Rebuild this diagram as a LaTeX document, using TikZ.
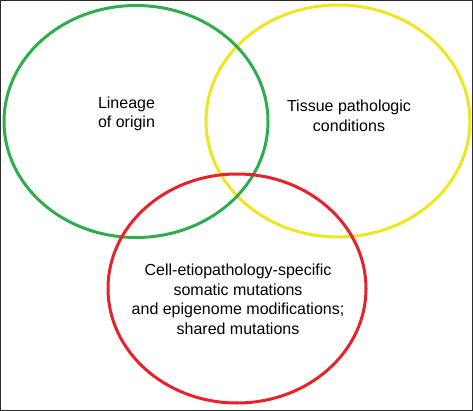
\documentclass[tikz,border=0pt]{standalone}
\usepackage{fontspec}
\setmainfont{Liberation Sans}
\definecolor{vgreen}{HTML}{2EAC4E}
\definecolor{vyellow}{HTML}{F0E620}
\definecolor{vred}{HTML}{E8222A}
\definecolor{frame}{HTML}{2B2B2B}
\begin{document}
\begin{tikzpicture}[x=1pt,y=-1pt,
  ring/.style={line width=3pt},
  lbl/.style={align=center,inner sep=0pt,font=\fontsize{16}{19.5}\selectfont}]
\useasboundingbox (0,0) rectangle (473,411);
\draw[frame,line width=1.4pt] (0.7,0.7) rectangle (472.3,410.3);
\draw[ring,vyellow] (338,121) ellipse [x radius=132, y radius=116];
\draw[ring,vgreen] (136,121.5) ellipse [x radius=132, y radius=116];
\draw[ring,vred] (237,288.5) ellipse [x radius=129, y radius=114.5];
\node[lbl] (lin) at (126.5,114) {Lineage\\of origin};
\node[lbl] (tis) at (349,115.7) {Tissue pathologic\\conditions};
\node[lbl] (cell) at (238,299.5) {Cell-etiopathology-specific\\somatic mutations\\and epigenome modifications;\\shared mutations};
\end{tikzpicture}
\end{document}
